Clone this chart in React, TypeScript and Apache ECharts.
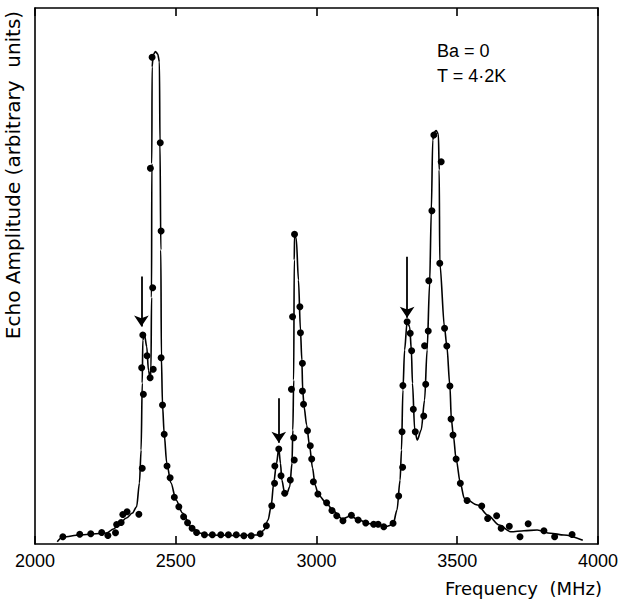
import React, { useEffect, useRef } from "react";
import * as echarts from "echarts";

// Measured points (frequency MHz, echo amplitude arbitrary units 0-100)
const dotFreq = [2099,2159,2198,2237,2259,2286,2290,2306,2312,2327,2369,2381,2385,2379,2383,2398,2409,2420,2418,2410,2416,2445,2448,2448,2453,2459,2469,2480,2495,2511,2528,2542,2558,2574,2602,2630,2660,2687,2715,2742,2768,2800,2822,2841,2851,2852,2866,2874,2887,2907,2921,2919,2911,2915,2922,2941,2943,2950,2950,2954,2968,2978,2983,2989,3005,3036,3055,3072,3094,3124,3148,3175,3203,3219,3239,3272,3292,3306,3304,3307,3322,3333,3338,3344,3351,3381,3388,3384,3397,3399,3410,3417,3443,3438,3455,3463,3474,3478,3485,3496,3511,3535,3587,3608,3640,3656,3685,3723,3752,3808,3846,3908];
const dotAmp = [1.36,1.81,1.90,2.15,1.59,2.11,3.64,4.01,5.50,6.03,5.56,14.12,27.93,32.89,38.99,35.13,31.03,32.59,47.82,70.09,90.80,74.87,58.40,34.76,25.93,20.47,14.55,12.37,8.71,6.96,5.09,3.97,2.93,2.15,1.74,1.74,1.74,1.74,1.72,1.53,1.53,1.92,3.40,7.15,11.32,14.55,17.72,12.74,9.46,11.94,15.67,19.83,28.88,42.41,57.78,44.27,39.42,33.71,28.55,26.06,21.14,18.34,15.86,11.62,9.33,7.71,6.25,5.26,4.35,5.35,4.48,3.92,3.69,3.68,3.23,3.86,8.96,14.31,20.95,29.57,41.47,39.31,36.06,25.13,20.95,23.88,29.80,37.0,39.74,49.12,62.18,76.31,71.33,52.37,40.24,36.94,29.48,23.32,20.34,15.86,11.32,8.12,7.09,4.76,5.26,2.93,3.30,1.36,3.79,2.46,1.36,1.77];

// Hand-drawn fitted curve
const curveFreq = [2079,2099,2159,2230,2254,2279,2300,2325,2346,2361,2371,2377,2381,2383,2389,2397,2403,2409,2412,2414,2415,2416,2420,2428,2436,2442,2444,2447,2449,2453,2459,2468,2483,2501,2524,2554,2583,2618,2724,2788,2802,2813,2828,2839,2848,2858,2866,2872,2877,2886,2895,2905,2913,2916,2919,2921,2922,2928,2936,2943,2948,2951,2956,2965,2975,2986,2995,3007,3035,3060,3092,3120,3148,3184,3219,3247,3272,3286,3297,3302,3307,3313,3322,3331,3337,3341,3349,3358,3372,3384,3393,3402,3408,3413,3419,3425,3433,3436,3438,3455,3463,3474,3479,3486,3496,3511,3525,3572,3608,3649,3690,3737,3784,3831,3879,3946];
const curveAmp = [0.43,1.31,1.68,1.96,2.05,2.80,3.82,4.85,5.78,6.96,11.38,17.54,30.04,38.06,38.99,36.81,32.46,30.91,32.5,46,71,89,91.3,91.89,91.42,89.93,74.81,54.85,34.89,25.93,20.52,15.11,11.38,8.21,5.78,3.23,2.05,1.68,1.59,1.68,1.96,2.61,4.48,7.09,11.38,15.06,17.85,15.06,11.94,9.76,9.46,10.69,15.06,21.27,30.60,52.99,57.46,57.09,49.25,39.93,34.33,28.73,25.56,22.2,18.47,14.18,11.01,9.14,7.65,6.16,4.66,5.22,4.57,3.82,3.54,3.26,3.64,6.34,11.94,17.54,28.73,36.19,41.47,40.54,36.19,29.98,21.27,19.40,21.27,26.87,36.19,48.69,62.31,75.37,76.87,77.15,76.49,69.78,52.43,40.30,36.94,29.48,23.32,20.34,15.86,11.38,8.53,7.28,5.41,3.54,2.29,2.48,2.61,2.0,1.68,0.69];

// Arrows marking the shoulder peaks
const arrowFreq = [2378, 2866, 3322];
const arrowTop = [49.9, 27.2, 53.6];
const arrowBottom = [40.6, 18.9, 42.2];

const annotationLines = ["Ba = 0", "T = 4·2K"];
const xTitle = "Frequency  (MHz)";
const yTitle = "Echo Amplitude (arbitrary  units)";

export default function App() {
  const ref = useRef<HTMLDivElement>(null);
  useEffect(() => {
    document.body.style.margin = "0";
    const chart = echarts.init(ref.current!, null, { renderer: "svg" });
    const axisFont = "'Liberation Sans', Arial, sans-serif";
    const titleFont = "'DejaVu Sans', sans-serif";
    const baseX = {
      type: "value" as const,
      min: 2000,
      max: 4000,
      interval: 500,
      axisLine: { show: true, onZero: false, lineStyle: { color: "#000", width: 1.6 } },
      axisTick: { show: true, inside: true, length: 8, lineStyle: { color: "#000", width: 1.6 } },
      splitLine: { show: false },
    };
    chart.setOption({
      animation: false,
      backgroundColor: "#fff",
      grid: { left: 35, right: 20, top: 8, bottom: 59, containLabel: false },
      xAxis: [
        {
          ...baseX,
          position: "bottom",
          axisLabel: {
            color: "#000",
            fontSize: 18,
            fontFamily: axisFont,
            margin: 8,
            formatter: (v: number) => String(v),
          },
        },
        {
          ...baseX,
          position: "top",
          axisLabel: { show: false },
        },
      ],
      yAxis: [
        {
          type: "value",
          min: 0,
          max: 100,
          position: "left",
          axisLine: { show: true, onZero: false, lineStyle: { color: "#000", width: 1.6 } },
          axisTick: { show: false },
          axisLabel: { show: false },
          splitLine: { show: false },
        },
        {
          type: "value",
          min: 0,
          max: 100,
          position: "right",
          axisLine: { show: true, onZero: false, lineStyle: { color: "#000", width: 1.6 } },
          axisTick: { show: false },
          axisLabel: { show: false },
          splitLine: { show: false },
        },
      ],
      series: [
        {
          type: "line",
          name: "fit",
          data: curveFreq.map((f, i) => [f, curveAmp[i]]),
          showSymbol: false,
          smooth: 0.3,
          smoothMonotone: "x",
          lineStyle: { color: "#000", width: 1.6 },
          silent: true,
          markLine: {
            silent: true,
            symbol: ["none", "arrow"],
            symbolSize: 11,
            label: { show: false },
            lineStyle: { color: "#000", width: 1.8, type: "solid" },
            data: arrowFreq.map((f, i) => [
              { coord: [f, arrowTop[i]] },
              { coord: [f, arrowBottom[i]] },
            ]),
          },
        },
        {
          type: "scatter",
          name: "measured",
          data: dotFreq.map((f, i) => [f, dotAmp[i]]),
          symbol: "circle",
          symbolSize: 7,
          itemStyle: { color: "#000", opacity: 1 },
          silent: true,
        },
      ],
      graphic: [
        {
          type: "text",
          left: 437,
          top: 42,
          style: { text: annotationLines[0], fontSize: 18, fontFamily: axisFont, fill: "#000" },
        },
        {
          type: "text",
          left: 437,
          top: 67,
          style: { text: annotationLines[1], fontSize: 18, fontFamily: axisFont, fill: "#000" },
        },
        {
          type: "text",
          x: 602,
          y: 588,
          style: {
            text: xTitle,
            fontSize: 18,
            fontFamily: titleFont,
            fill: "#000",
            align: "right",
            verticalAlign: "middle",
          },
        },
        {
          type: "text",
          x: 13,
          y: 175,
          rotation: Math.PI / 2,
          style: {
            text: yTitle,
            fontSize: 20,
            fontFamily: titleFont,
            fill: "#000",
            align: "center",
            verticalAlign: "middle",
          },
        },
      ],
    });
    return () => chart.dispose();
  }, []);
  return <div ref={ref} style={{ width: 621, height: 603 }} />;
}
